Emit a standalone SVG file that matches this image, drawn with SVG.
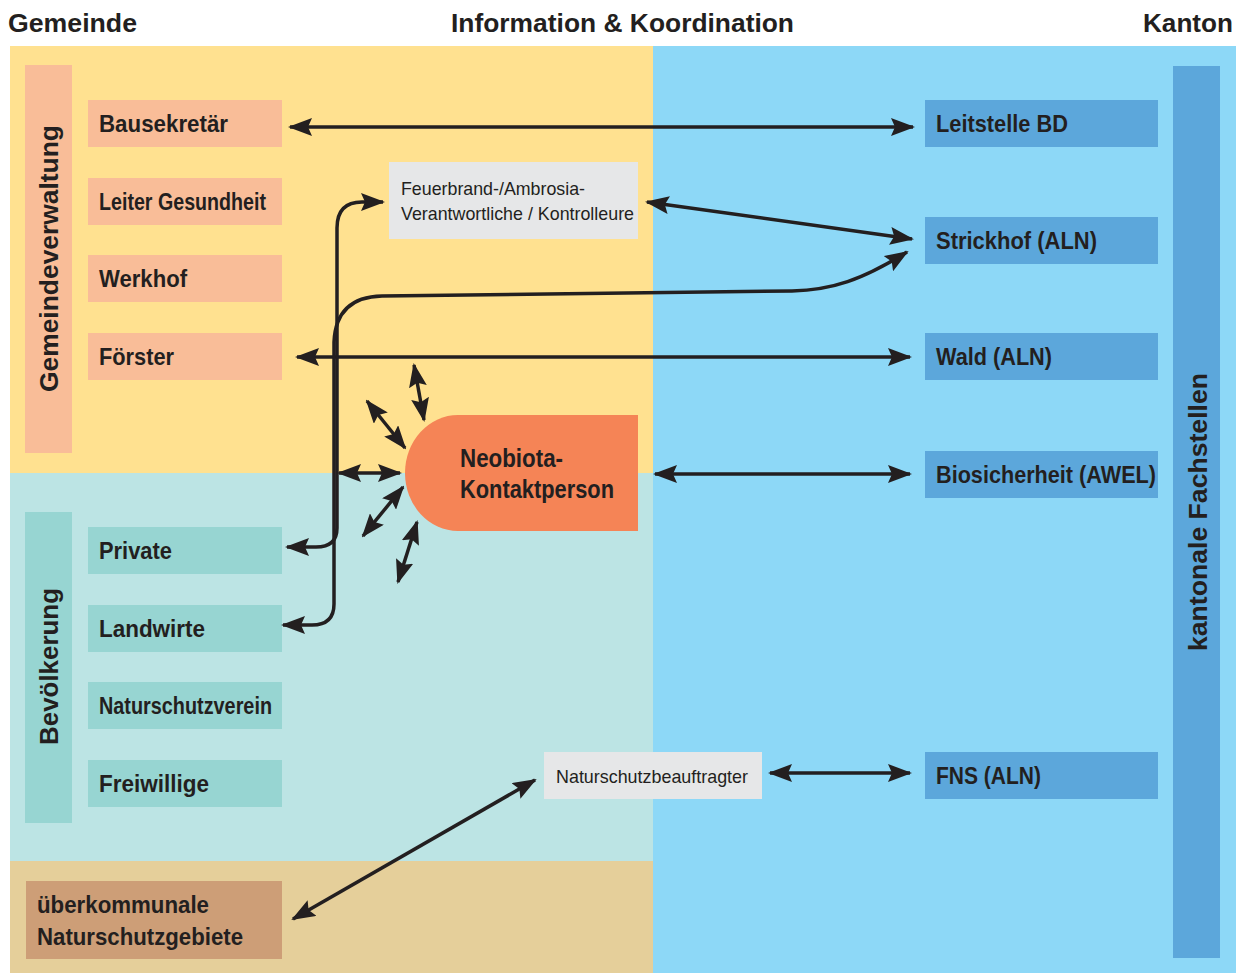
<svg xmlns="http://www.w3.org/2000/svg" width="1236" height="973" viewBox="0 0 1236 973">
<style>
.hdr{font-family:"Liberation Sans",Arial,sans-serif;font-weight:bold;font-size:26px;fill:#231F20}
.lbl{font-family:"Liberation Sans Narrow","Liberation Sans",Arial,sans-serif;font-weight:bold;font-size:24px;fill:#231F20}
.big{font-family:"Liberation Sans Narrow","Liberation Sans",Arial,sans-serif;font-weight:bold;font-size:26px;fill:#231F20}
.sm{font-family:"Liberation Sans Narrow","Liberation Sans",Arial,sans-serif;font-size:19px;fill:#231F20}
.peach{fill:#F9BD98}
.teal{fill:#97D5D2}
.blue{fill:#5CA7DB}
.grey{fill:#E6E7E8}
.con{fill:none;stroke:#231F20;stroke-width:3.5}
</style>
<defs>
<marker id="ah" viewBox="0 0 24 18" refX="22" refY="9" markerWidth="24" markerHeight="18" markerUnits="userSpaceOnUse" orient="auto-start-reverse">
<path d="M0,0 L24,9 L0,18 L4,9 Z" fill="#231F20"/>
</marker>
</defs>
<rect width="1236" height="973" fill="#FFFFFF"/>
<g id="background">
<rect x="10" y="46" width="643" height="427" fill="#FFE190"/>
<rect x="10" y="473" width="643" height="388" fill="#BCE4E4"/>
<rect x="10" y="861" width="643" height="112" fill="#E5CF9A"/>
<rect x="653" y="46" width="583" height="927" fill="#8DD8F7"/>
</g>
<g id="headers">
<text class="hdr" x="8" y="32" textLength="129" lengthAdjust="spacingAndGlyphs">Gemeinde</text>
<text class="hdr" x="451" y="32" textLength="343" lengthAdjust="spacingAndGlyphs">Information &amp; Koordination</text>
<text class="hdr" x="1143" y="32" textLength="90" lengthAdjust="spacingAndGlyphs">Kanton</text>
</g>
<g id="gemeindeverwaltung">
<rect class="peach" x="25" y="65" width="47" height="388"/>
<text class="hdr" transform="translate(58,392) rotate(-90)" textLength="267" lengthAdjust="spacingAndGlyphs">Gemeindeverwaltung</text>
</g>
<g id="bevoelkerung">
<rect class="teal" x="25" y="512" width="47" height="311"/>
<text class="hdr" transform="translate(58,745) rotate(-90)" textLength="157" lengthAdjust="spacingAndGlyphs">Bevölkerung</text>
</g>
<g id="kantonale-fachstellen">
<rect class="blue" x="1173" y="66" width="47" height="892"/>
<text class="hdr" transform="translate(1207,651) rotate(-90)" textLength="278" lengthAdjust="spacingAndGlyphs">kantonale Fachstellen</text>
</g>
<g id="bausekretaer"><rect class="peach" x="88" y="100" width="194" height="47"/><text class="lbl" x="99" y="132" textLength="129" lengthAdjust="spacingAndGlyphs">Bausekretär</text></g>
<g id="leiter-gesundheit"><rect class="peach" x="88" y="178" width="194" height="47"/><text class="lbl" x="99" y="210" textLength="167" lengthAdjust="spacingAndGlyphs">Leiter Gesundheit</text></g>
<g id="werkhof"><rect class="peach" x="88" y="255" width="194" height="47"/><text class="lbl" x="99" y="287" textLength="88" lengthAdjust="spacingAndGlyphs">Werkhof</text></g>
<g id="foerster"><rect class="peach" x="88" y="333" width="194" height="47"/><text class="lbl" x="99" y="365" textLength="75" lengthAdjust="spacingAndGlyphs">Förster</text></g>
<g id="private"><rect class="teal" x="88" y="527" width="194" height="47"/><text class="lbl" x="99" y="559" textLength="73" lengthAdjust="spacingAndGlyphs">Private</text></g>
<g id="landwirte"><rect class="teal" x="88" y="605" width="194" height="47"/><text class="lbl" x="99" y="637" textLength="106" lengthAdjust="spacingAndGlyphs">Landwirte</text></g>
<g id="naturschutzverein"><rect class="teal" x="88" y="682" width="194" height="47"/><text class="lbl" x="99" y="714" textLength="173" lengthAdjust="spacingAndGlyphs">Naturschutzverein</text></g>
<g id="freiwillige"><rect class="teal" x="88" y="760" width="194" height="47"/><text class="lbl" x="99" y="792" textLength="110" lengthAdjust="spacingAndGlyphs">Freiwillige</text></g>
<g id="ueberkommunale"><rect x="26" y="881" width="256" height="78" fill="#CD9E77"/>
<text class="lbl" x="37" y="913" textLength="172" lengthAdjust="spacingAndGlyphs">überkommunale</text>
<text class="lbl" x="37" y="945" textLength="206" lengthAdjust="spacingAndGlyphs">Naturschutzgebiete</text></g>
<g id="feuerbrand"><rect class="grey" x="389" y="162" width="249" height="77"/>
<text class="sm" x="401" y="195" textLength="184" lengthAdjust="spacingAndGlyphs">Feuerbrand-/Ambrosia-</text>
<text class="sm" x="401" y="220" textLength="233" lengthAdjust="spacingAndGlyphs">Verantwortliche / Kontrolleure</text></g>
<g id="naturschutzbeauftragter"><rect class="grey" x="544" y="752" width="218" height="47"/>
<text class="sm" x="556" y="783" textLength="192" lengthAdjust="spacingAndGlyphs">Naturschutzbeauftragter</text></g>
<g id="neobiota"><path d="M638,415 H458 A53,58 0 0 0 458,531 H638 Z" fill="#F58456"/>
<text class="big" x="460" y="467" textLength="103" lengthAdjust="spacingAndGlyphs">Neobiota-</text>
<text class="big" x="460" y="498" textLength="154" lengthAdjust="spacingAndGlyphs">Kontaktperson</text></g>
<g id="leitstelle-bd"><rect class="blue" x="925" y="100" width="233" height="47"/><text class="lbl" x="936" y="132" textLength="132" lengthAdjust="spacingAndGlyphs">Leitstelle BD</text></g>
<g id="strickhof"><rect class="blue" x="925" y="217" width="233" height="47"/><text class="lbl" x="936" y="249" textLength="161" lengthAdjust="spacingAndGlyphs">Strickhof (ALN)</text></g>
<g id="wald"><rect class="blue" x="925" y="333" width="233" height="47"/><text class="lbl" x="936" y="365" textLength="116" lengthAdjust="spacingAndGlyphs">Wald (ALN)</text></g>
<g id="biosicherheit"><rect class="blue" x="925" y="451" width="233" height="47"/><text class="lbl" x="936" y="483" textLength="220" lengthAdjust="spacingAndGlyphs">Biosicherheit (AWEL)</text></g>
<g id="fns"><rect class="blue" x="925" y="752" width="233" height="47"/><text class="lbl" x="936" y="784" textLength="105" lengthAdjust="spacingAndGlyphs">FNS (ALN)</text></g>
<g id="connectors" marker-start="url(#ah)" marker-end="url(#ah)">
<path class="con" d="M290,127 H913" marker-start="url(#ah)" marker-end="url(#ah)"/>
<path class="con" d="M647,202 L912,239" marker-start="url(#ah)" marker-end="url(#ah)"/>
<path class="con" d="M297,357 H910" marker-start="url(#ah)" marker-end="url(#ah)"/>
<path class="con" d="M655,474 H910" marker-start="url(#ah)" marker-end="url(#ah)"/>
<path class="con" d="M770,773 H910" marker-start="url(#ah)" marker-end="url(#ah)"/>
<path class="con" stroke-width="3" d="M293,919 L535,780" marker-start="url(#ah)" marker-end="url(#ah)"/>
<path class="con" d="M383,202 H362 Q337,202 337,228 V528 Q337,547 316,547 H287" marker-start="url(#ah)" marker-end="url(#ah)"/>
<path class="con" d="M907,252 C862,280 832,290 792,291 L382,296 Q336,297 334,342 V604 Q334,625 312,625 H283" marker-start="url(#ah)" marker-end="url(#ah)"/>
<path class="con" d="M414,365 L424,420" marker-start="url(#ah)" marker-end="url(#ah)"/>
<path class="con" d="M367,401 L405,448" marker-start="url(#ah)" marker-end="url(#ah)"/>
<path class="con" d="M339,473 L400,473" marker-start="url(#ah)" marker-end="url(#ah)"/>
<path class="con" d="M363,536 L403,487" marker-start="url(#ah)" marker-end="url(#ah)"/>
<path class="con" d="M398,582 L417,522" marker-start="url(#ah)" marker-end="url(#ah)"/>
</g>
</svg>
